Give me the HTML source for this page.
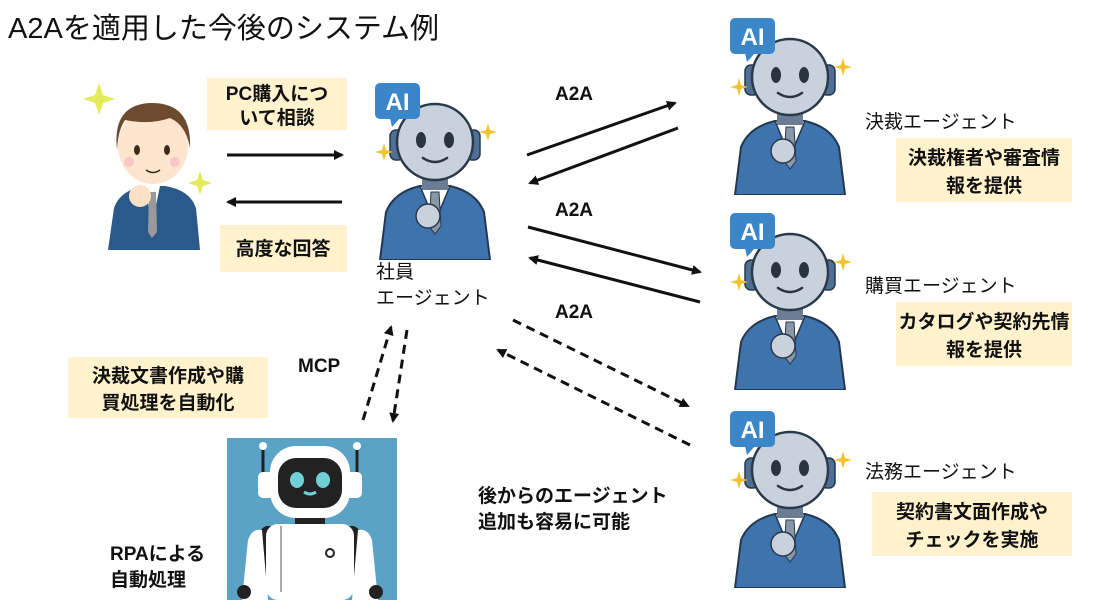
<!DOCTYPE html>
<html><head><meta charset="utf-8">
<style>
html,body{margin:0;padding:0;background:#fff;}
svg{display:block;}
text{font-family:"Liberation Sans","Noto Sans CJK JP",sans-serif;fill:#111;}
.b{font-weight:bold;font-size:19px;}
.r{font-size:19px;}
</style></head><body>
<svg width="1115" height="608" viewBox="0 0 1115 608" xmlns="http://www.w3.org/2000/svg">
<defs>
<symbol id="rb" viewBox="0 0 130 180" width="130" height="180">
  <path d="M10,180 L16,132 Q24,112 50,106 L80,106 Q106,112 114,132 L120,180 Z" fill="#3f73ad" stroke="#23384f" stroke-width="2"/>
  <polygon points="50,106 65,142 80,106" fill="#fff" stroke="#23384f" stroke-width="1.5"/>
  <polygon points="61,112 69,112 71,146 65,154 59,146" fill="#8a97a6" stroke="#23384f" stroke-width="1"/>
  <rect x="52" y="94" width="26" height="16" fill="#6a7d95"/>
  <rect x="20" y="50" width="14" height="30" rx="6" fill="#4f6f94" stroke="#23384f" stroke-width="1.5"/>
  <rect x="96" y="50" width="14" height="30" rx="6" fill="#4f6f94" stroke="#23384f" stroke-width="1.5"/>
  <circle cx="65" cy="62" r="38" fill="#c9d2dc" stroke="#2a3a4a" stroke-width="2.5"/>
  <ellipse cx="51" cy="60" rx="5" ry="8" fill="#2a3440"/>
  <ellipse cx="79" cy="60" rx="5" ry="8" fill="#2a3440"/>
  <path d="M53,78 Q65,86 77,78" fill="none" stroke="#2a3440" stroke-width="2.5" stroke-linecap="round"/>
  <circle cx="58" cy="136" r="12" fill="#c9d2dc" stroke="#2a3a4a" stroke-width="1.5"/>
  <rect x="5" y="3" width="45" height="36" rx="5" fill="#3a86c8"/>
  <polygon points="20,38 30,38 22,47" fill="#3a86c8"/>
  <text x="27.5" y="30" text-anchor="middle" style="font-weight:bold;font-size:24px;fill:#fff">AI</text>
  <path d="M12,70 l2,-7 l2,7 l7,2 l-7,2 l-2,7 l-2,-7 l-7,-2 z" fill="#f4c430"/>
  <path d="M116,50 l2,-7 l2,7 l7,2 l-7,2 l-2,7 l-2,-7 l-7,-2 z" fill="#f4c430"/>
</symbol>
<marker id="ah" markerWidth="10" markerHeight="10" refX="8" refY="5" orient="auto" markerUnits="userSpaceOnUse">
  <path d="M0,0 L10,5 L0,10 z" fill="#111"/>
</marker>
</defs>

<text x="8" y="38" style="font-size:29px">A2Aを適用した今後のシステム例</text>

<!-- human -->
<g>
  <path d="M95,95 l4,-12 l4,12 l12,4 l-12,4 l-4,12 l-4,-12 l-12,-4 z" fill="#e5ea5a"/>
  <path d="M197,180 l3,-9 l3,9 l9,3 l-9,3 l-3,9 l-3,-9 l-9,-3 z" fill="#e5ea5a"/>
  <path d="M108,250 L114,208 Q120,190 145,186 L165,186 Q190,190 196,208 L200,250 Z" fill="#2b5a8a"/>
  <polygon points="145,186 152,225 160,186" fill="#fff"/>
  <polygon points="149,192 156,192 157,232 152,238 148,232" fill="#9a9a9a"/>
  <circle cx="140" cy="196" r="11" fill="#fde0c8"/>
  <ellipse cx="153" cy="146" rx="35" ry="38" fill="#fde4cc"/>
  <path d="M117,150 Q112,105 150,103 Q192,102 190,148 Q186,125 170,118 Q150,125 125,120 Q118,130 117,150 z" fill="#6b4a2e"/>
  <ellipse cx="137" cy="150" rx="3" ry="5" fill="#3a2a1a"/>
  <ellipse cx="167" cy="150" rx="3" ry="5" fill="#3a2a1a"/>
  <circle cx="129" cy="162" r="5" fill="#f7c6c6"/>
  <circle cx="175" cy="162" r="5" fill="#f7c6c6"/>
  <path d="M146,170 Q153,175 160,170" fill="none" stroke="#3a2a1a" stroke-width="1.5"/>
</g>

<!-- yellow boxes -->
<rect x="207" y="78" width="140" height="52" fill="#fff2cc"/>
<text class="b" x="277" y="100" text-anchor="middle">PC購入につ</text>
<text class="b" x="277" y="124" text-anchor="middle">いて相談</text>
<rect x="220" y="225" width="127" height="47" fill="#fff2cc"/>
<text class="b" x="283" y="255" text-anchor="middle">高度な回答</text>

<line x1="227" y1="155" x2="342" y2="155" stroke="#111" stroke-width="3" marker-end="url(#ah)"/>
<line x1="342" y1="202" x2="228" y2="202" stroke="#111" stroke-width="3" marker-end="url(#ah)"/>

<!-- employee robot -->
<use href="#rb" x="370" y="80" width="130" height="180"/>
<text class="r" x="376" y="278">社員</text>
<text class="r" x="376" y="304">エージェント</text>

<!-- right robots -->
<use href="#rb" x="725" y="15" width="130" height="180"/>
<use href="#rb" x="725" y="210" width="130" height="180"/>
<use href="#rb" x="725" y="408" width="130" height="180"/>

<text class="r" x="865" y="128">決裁エージェント</text>
<rect x="896" y="138" width="176" height="64" fill="#fff2cc"/>
<text class="b" x="984" y="164" text-anchor="middle">決裁権者や審査情</text>
<text class="b" x="984" y="192" text-anchor="middle">報を提供</text>

<text class="r" x="865" y="292">購買エージェント</text>
<rect x="896" y="302" width="176" height="64" fill="#fff2cc"/>
<text class="b" x="984" y="328" text-anchor="middle">カタログや契約先情</text>
<text class="b" x="984" y="356" text-anchor="middle">報を提供</text>

<text class="r" x="865" y="478">法務エージェント</text>
<rect x="872" y="492" width="200" height="64" fill="#fff2cc"/>
<text class="b" x="972" y="518" text-anchor="middle">契約書文面作成や</text>
<text class="b" x="972" y="546" text-anchor="middle">チェックを実施</text>

<!-- A2A arrows -->
<text class="b" x="555" y="100">A2A</text>
<text class="b" x="555" y="216">A2A</text>
<text class="b" x="555" y="318">A2A</text>
<line x1="527" y1="155" x2="675" y2="103" stroke="#111" stroke-width="3" marker-end="url(#ah)"/>
<line x1="678" y1="128" x2="530" y2="183" stroke="#111" stroke-width="3" marker-end="url(#ah)"/>
<line x1="528" y1="227" x2="700" y2="272" stroke="#111" stroke-width="3" marker-end="url(#ah)"/>
<line x1="700" y1="302" x2="530" y2="258" stroke="#111" stroke-width="3" marker-end="url(#ah)"/>
<line x1="513" y1="320" x2="688" y2="406" stroke="#111" stroke-width="3" stroke-dasharray="9,6" marker-end="url(#ah)"/>
<line x1="690" y1="445" x2="498" y2="350" stroke="#111" stroke-width="3" stroke-dasharray="9,6" marker-end="url(#ah)"/>

<text class="b" x="478" y="502">後からのエージェント</text>
<text class="b" x="478" y="528">追加も容易に可能</text>

<!-- MCP -->
<text class="b" x="298" y="372">MCP</text>
<line x1="363" y1="420" x2="391" y2="327" stroke="#111" stroke-width="3" stroke-dasharray="9,6" marker-end="url(#ah)"/>
<line x1="407" y1="330" x2="393" y2="421" stroke="#111" stroke-width="3" stroke-dasharray="9,6" marker-end="url(#ah)"/>

<rect x="68" y="357" width="200" height="61" fill="#fff2cc"/>
<text class="b" x="168" y="382" text-anchor="middle">決裁文書作成や購</text>
<text class="b" x="168" y="409" text-anchor="middle">買処理を自動化</text>

<!-- RPA robot -->
<g>
  <rect x="227" y="438" width="170" height="162" fill="#5ba3c6"/>
  <line x1="263" y1="448" x2="263" y2="480" stroke="#222" stroke-width="3"/>
  <line x1="357" y1="448" x2="357" y2="480" stroke="#222" stroke-width="3"/>
  <circle cx="263" cy="446" r="4" fill="#fff"/>
  <circle cx="357" cy="446" r="4" fill="#fff"/>
  <rect x="258" y="472" width="16" height="26" rx="5" fill="#fff"/>
  <rect x="346" y="472" width="16" height="26" rx="5" fill="#fff"/>
  <rect x="270" y="446" width="80" height="72" rx="26" fill="#fff"/>
  <rect x="278" y="458" width="64" height="50" rx="18" fill="#222"/>
  <ellipse cx="297" cy="480" rx="7" ry="8" fill="#6fd0d8"/>
  <ellipse cx="323" cy="480" rx="7" ry="8" fill="#6fd0d8"/>
  <path d="M304,492 Q310,496 316,492" fill="none" stroke="#6fd0d8" stroke-width="3"/>
  <rect x="295" y="518" width="30" height="12" fill="#222"/>
  <rect x="260" y="526" width="18" height="60" rx="8" fill="#222"/>
  <rect x="342" y="526" width="18" height="60" rx="8" fill="#222"/>
  <path d="M242,600 L248,540 Q252,528 262,530 L268,600 Z" fill="#fff"/>
  <path d="M378,600 L372,540 Q368,528 358,530 L352,600 Z" fill="#fff"/>
  <circle cx="244" cy="592" r="7" fill="#222"/>
  <circle cx="376" cy="592" r="7" fill="#222"/>
  <rect x="266" y="524" width="88" height="76" rx="12" fill="#fff"/>
  <line x1="281" y1="526" x2="281" y2="592" stroke="#555" stroke-width="1"/>
  <circle cx="330" cy="553" r="4" fill="none" stroke="#222" stroke-width="2"/>
</g>
<text class="b" x="110" y="560">RPAによる</text>
<text class="b" x="110" y="586">自動処理</text>
</svg>
</body></html>
